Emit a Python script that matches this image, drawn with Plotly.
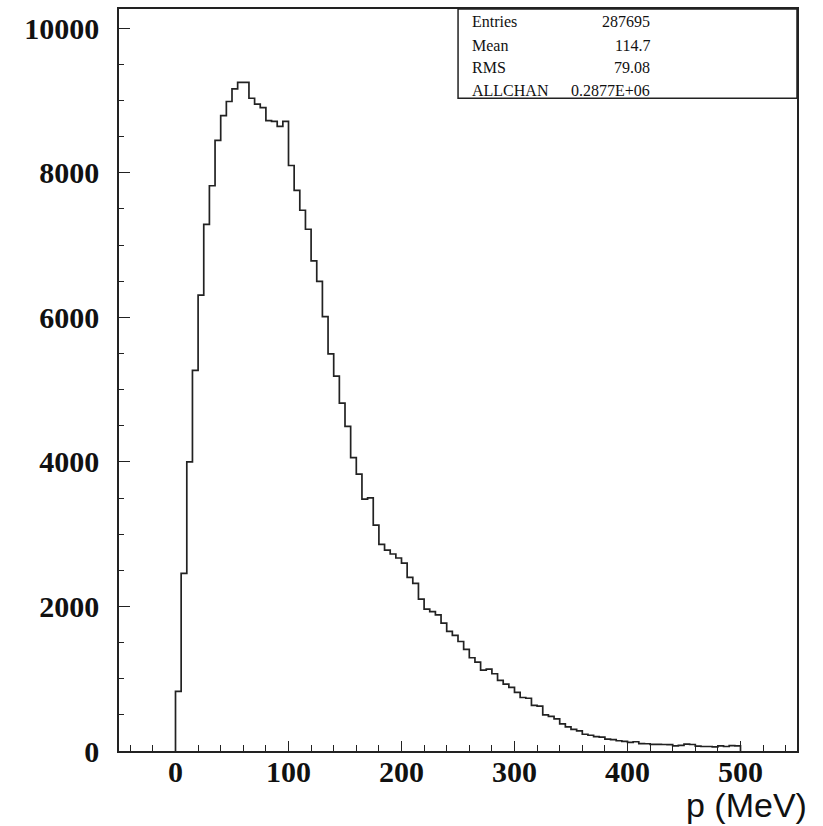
import plotly.graph_objects as go

# Histogram: 100 bins of 5 MeV from 0 to 500
bin_width = 5
bin_low_edges = [i * bin_width for i in range(100)]
counts = [
    825, 2457, 4000, 5265, 6307, 7285, 7820, 8447, 8790, 8985,
    9160, 9250, 9250, 9030, 8950, 8900, 8720, 8710, 8640, 8710,
    8100, 7756, 7481, 7218, 6781, 6496, 6009, 5494, 5185, 4813,
    4491, 4059, 3829, 3484, 3502, 3125, 2859, 2780, 2725, 2670,
    2600, 2403, 2320, 2100, 1962, 1929, 1883, 1768, 1655, 1600,
    1515, 1405, 1290, 1230, 1120, 1134, 1069, 977, 925, 880,
    810, 740, 730, 630, 620, 500, 480, 445, 375, 335,
    300, 278, 232, 218, 198, 192, 165, 158, 142, 132,
    118, 128, 102, 100, 92, 92, 90, 88, 72, 78,
    95, 90, 68, 62, 62, 58, 72, 62, 75, 70,
]

stat_names = ["Entries", "Mean", "RMS", "ALLCHAN"]
stat_values = ["287695", "114.7", "79.08", "0.2877E+06"]

x_tickvals = [0, 100, 200, 300, 400, 500]
y_tickvals = [0, 2000, 4000, 6000, 8000, 10000]
x_title = "p (MeV)"

W, H = 823, 826
L, R, T, B = 119, 25.5, 7.3, 75

xs = [bin_low_edges[0]] + bin_low_edges + [bin_low_edges[-1] + bin_width] * 2
ys = [0] + counts + [counts[-1], 0]

fig = go.Figure()
fig.add_trace(go.Scatter(
    x=xs, y=ys, mode="lines", line=dict(shape="hv", color="#222222", width=1.7),
    hoverinfo="skip", showlegend=False,
))

tickfont = dict(family="Liberation Serif", size=30, color="#111111", weight="bold")

fig.update_xaxes(
    range=[-50, 550], showgrid=False, zeroline=False,
    showline=True, linecolor="#222222", linewidth=1.5, mirror=True,
    ticks="inside", ticklen=10, tickwidth=1.2, tickcolor="#222222",
    tickvals=x_tickvals, ticktext=[str(v) for v in x_tickvals],
    tickfont=tickfont, ticklabelstandoff=-7,
    minor=dict(dtick=20, tick0=0, ticks="inside", ticklen=6, tickwidth=1.2, tickcolor="#222222"),
)
fig.update_yaxes(
    range=[0, 10265], showgrid=False, zeroline=False,
    showline=True, linecolor="#222222", linewidth=1.5, mirror=True,
    ticks="inside", ticklen=11, tickwidth=1.2, tickcolor="#222222",
    tickvals=y_tickvals, ticktext=[str(v) for v in y_tickvals],
    tickfont=tickfont, ticklabelstandoff=12,
    minor=dict(dtick=500, tick0=0, ticks="inside", ticklen=5, tickwidth=1.2, tickcolor="#222222"),
)

pw = W - L - R
ph = H - T - B

def px_x(x):
    return (x - L) / pw

def px_y(y):
    return 1 - (y - T) / ph

# stats box
fig.add_shape(type="rect", xref="paper", yref="paper",
              x0=px_x(458.3), x1=1, y0=px_y(96.7), y1=1,
              line=dict(color="#222222", width=1.5), fillcolor="white", layer="above")

row_y = [19.5, 43.5, 66, 89]
statfont = dict(family="Liberation Serif", size=16, color="#111111")
for name, val, ry in zip(stat_names, stat_values, row_y):
    fig.add_annotation(xref="paper", yref="paper", x=px_x(470), y=px_y(ry),
                       text=name, showarrow=False, xanchor="left", yanchor="middle",
                       font=statfont)
    fig.add_annotation(xref="paper", yref="paper", x=px_x(652), y=px_y(ry),
                       text=val, showarrow=False, xanchor="right", yanchor="middle",
                       font=statfont)

fig.add_annotation(xref="paper", yref="paper", x=px_x(810), y=px_y(805),
                   text=x_title, showarrow=False, xanchor="right", yanchor="middle",
                   font=dict(family="Liberation Sans", size=34, color="#111111"))

fig.update_layout(
    width=W, height=H, autosize=False,
    margin=dict(l=L, r=R, t=T, b=B, pad=0),
    paper_bgcolor="white", plot_bgcolor="white",
    showlegend=False,
)

fig.write_html("out.html")
